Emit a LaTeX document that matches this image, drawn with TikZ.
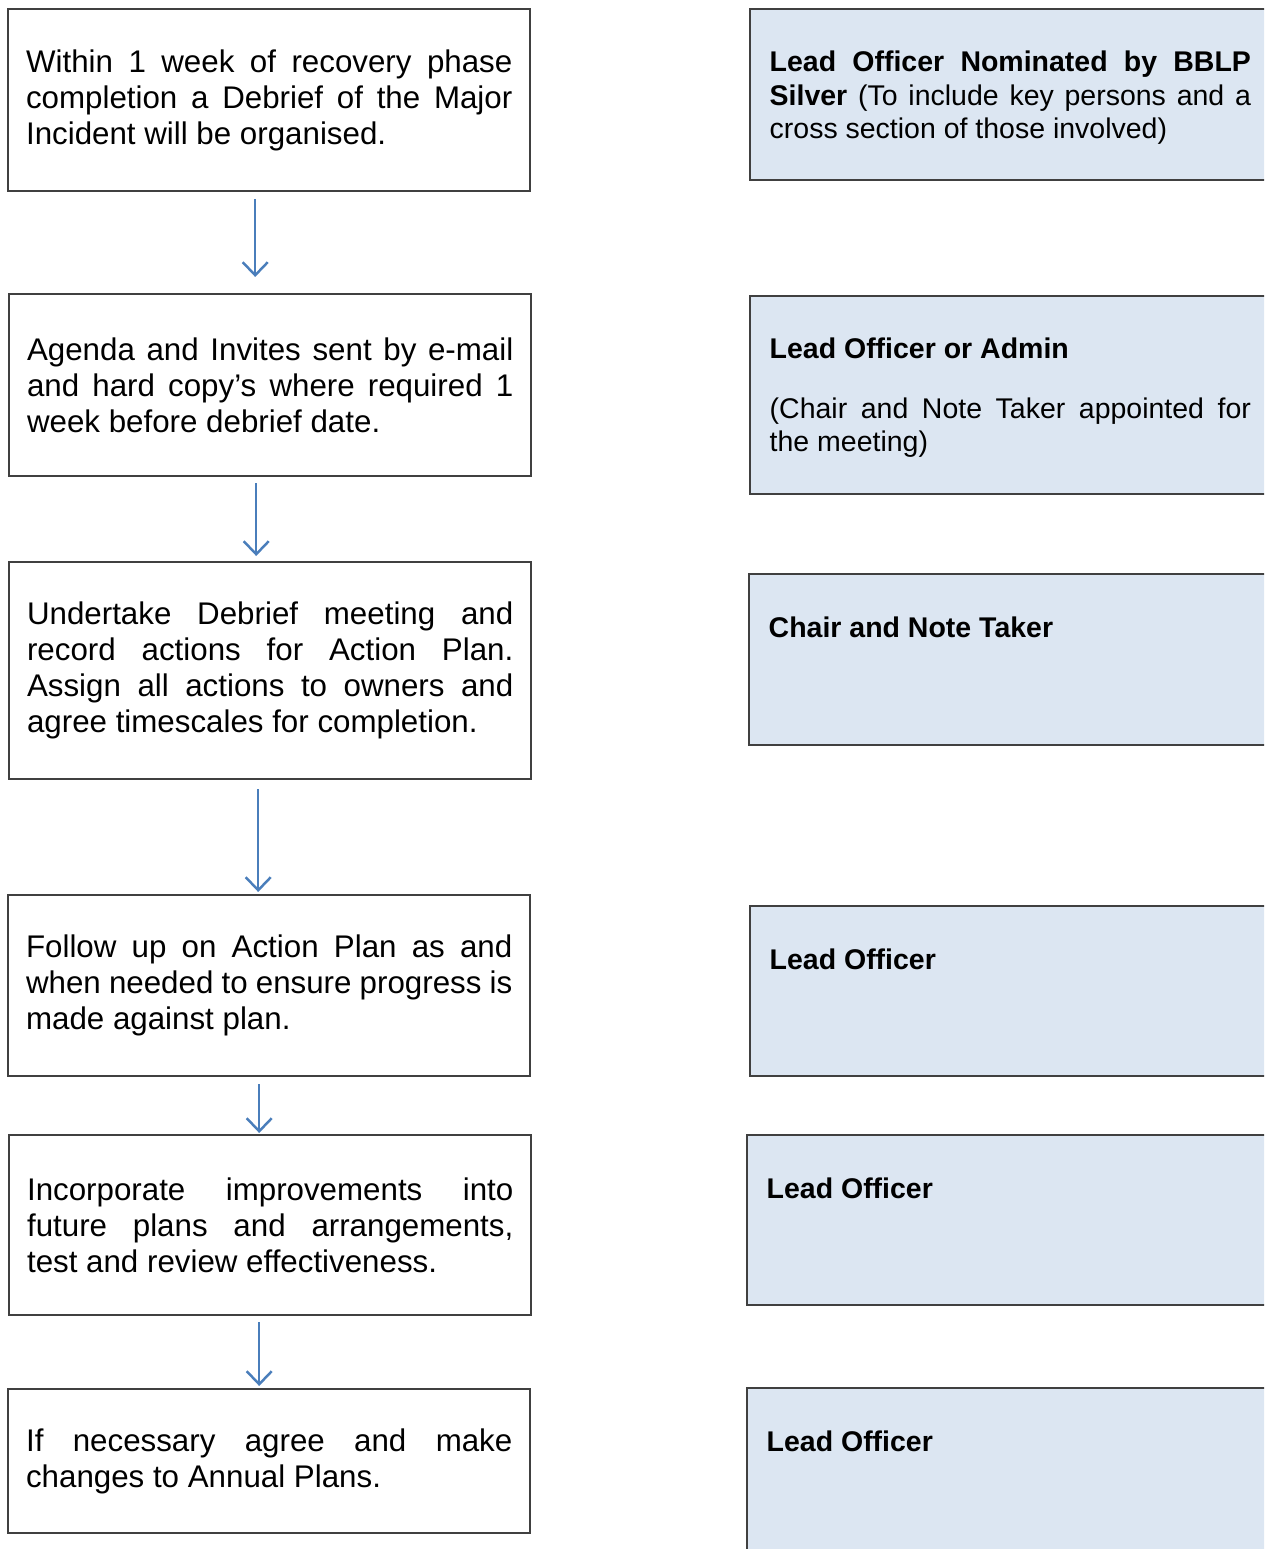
\documentclass[tikz,border=0pt]{standalone}
\usepackage{fontspec}
\setmainfont{Liberation Sans}
\usetikzlibrary{arrows.meta,calc}
\definecolor{flowblue}{HTML}{4A7EBB}
\definecolor{whofill}{HTML}{DCE6F2}
\definecolor{boxline}{HTML}{404040}

\begin{document}
\begin{tikzpicture}[x=0.01cm,y=-0.01cm]
  \useasboundingbox (0,0) rectangle (1264,1549);
  \clip (0,0) rectangle (1264,1549);

  % steps of the debrief
  \begin{scope}[every node/.style={draw=boxline,line width=0.6pt,anchor=north west,
      minimum width=5.22cm,text width=4.86cm,inner xsep=0.18cm,inner ysep=0pt,
      align=justify,font=\fontsize{8.9}{10.24}\selectfont}]
    \node[minimum height=1.82cm] (s1) at (7,8) {Within 1 week of recovery phase\linebreak completion a Debrief of the Major\linebreak Incident will be organised.};
    \node[minimum height=1.82cm] (s2) at (8,293) {Agenda and Invites sent by e-mail\linebreak and hard copy’s where required 1\linebreak week before debrief date.};
    \node[minimum height=2.17cm] (s3) at (8,561) {Undertake Debrief meeting and\linebreak record actions for Action Plan.\linebreak Assign all actions to owners and\linebreak agree timescales for completion.};
    \node[minimum height=1.81cm] (s4) at (7,894) {Follow up on Action Plan as and\linebreak when needed to ensure progress is\linebreak made against plan.};
    \node[minimum height=1.80cm] (s5) at (8,1134) {Incorporate improvements into\linebreak future plans and arrangements,\linebreak test and review effectiveness.};
    \node[minimum height=1.44cm] (s6) at (7,1388) {If necessary agree and make\linebreak changes to Annual Plans.};
  \end{scope}

  % who does it
  \begin{scope}[every node/.style={draw=boxline,line width=0.6pt,fill=whofill,
      anchor=north west,minimum width=5.25cm,inner sep=0pt}]
    \node[minimum height=1.71cm] (w1) at (749,8) {};
    \node[minimum height=1.98cm] (w2) at (749,295) {};
    \node[minimum height=1.71cm] (w3) at (748,573) {};
    \node[minimum height=1.70cm] (w4) at (749,905) {};
    \node[minimum height=1.70cm] (w5) at (746,1134) {};
    \node[minimum height=1.80cm] (w6) at (746,1387) {};
  \end{scope}

  \begin{scope}[every node/.style={anchor=base west,inner sep=0pt,text width=4.81cm,
      align=justify,font=\fontsize{8.1}{9.4}\selectfont}]
    \node (w1t) at ($(w1.north west)+(20,64)$) {\textbf{Lead Officer Nominated by BBLP}\linebreak\textbf{Silver} (To include key persons and a\linebreak cross section of those involved)};
    \node (w2t) at ($(w2.north west)+(20,64)$) {\textbf{Lead Officer or Admin}\par\vspace{0.26cm}(Chair and Note Taker appointed for\linebreak the meeting)};
    \node (w3t) at ($(w3.north west)+(20,64)$) {\textbf{Chair and Note Taker}};
    \node (w4t) at ($(w4.north west)+(20,64)$) {\textbf{Lead Officer}};
    \node (w5t) at ($(w5.north west)+(20,64)$) {\textbf{Lead Officer}};
    \node (w6t) at ($(w6.north west)+(20,64)$) {\textbf{Lead Officer}};
  \end{scope}

  \begin{scope}[>={Straight Barb[length=0.13cm,width=0.25cm]},
      every edge/.style={draw=flowblue,line width=0.7pt}]
    \path [->] ($(s1.south)+(-14,7)$) edge ($(s2.north)+(-15,-16)$);
    \path [->] ($(s2.south)+(-14,6)$) edge ($(s3.north)+(-14,-5)$);
    \path [->] ($(s3.south)+(-12,9)$) edge ($(s4.north)+(-11,-2)$);
    \path [->] ($(s4.south)+(-10,7)$) edge ($(s5.north)+(-11,-1)$);
    \path [->] ($(s5.south)+(-11,6)$) edge ($(s6.north)+(-10,-2)$);
  \end{scope}
\end{tikzpicture}
\end{document}
